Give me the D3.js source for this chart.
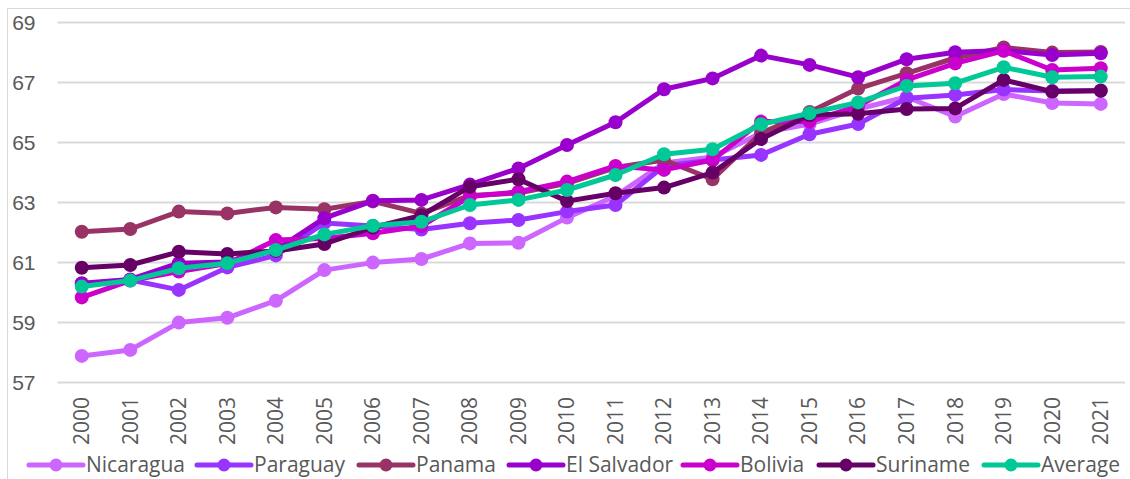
<!DOCTYPE html>
<html>
<head>
<meta charset="utf-8">
<script src="https://cdn.jsdelivr.net/npm/d3@7"></script>
<style>
  body { margin: 0; background: #fff; }
  svg { display: block; font-family: "Open Sans", sans-serif; }
</style>
</head>
<body>
<script>
// Data
var years = ['2000','2001','2002','2003','2004','2005','2006','2007','2008','2009','2010',
             '2011','2012','2013','2014','2015','2016','2017','2018','2019','2020','2021'];
var yTicks = [57, 59, 61, 63, 65, 67, 69];

var nicaragua  = [57.87,58.07,58.98,59.14,59.71,60.73,60.98,61.10,61.62,61.64,62.48,63.20,64.30,64.50,65.30,65.60,66.10,66.50,65.85,66.60,66.30,66.27];
var paraguay   = [60.27,60.40,60.07,60.82,61.22,62.30,62.20,62.08,62.29,62.40,62.68,62.90,64.20,64.40,64.57,65.26,65.60,66.46,66.57,66.75,66.70,66.72];
var panama     = [62.01,62.10,62.68,62.62,62.82,62.76,63.02,62.62,63.22,63.30,63.62,64.15,64.40,63.76,65.30,66.00,66.78,67.29,67.80,68.15,67.98,68.00];
var elSalvador = [60.29,60.42,60.96,61.00,61.40,62.46,63.04,63.07,63.58,64.12,64.90,65.66,66.76,67.12,67.88,67.57,67.16,67.76,67.99,68.05,67.90,67.96];
var bolivia    = [59.82,60.38,60.68,60.95,61.73,61.78,61.96,62.20,63.18,63.34,63.68,64.20,64.07,64.40,65.68,65.68,66.20,67.07,67.62,68.04,67.40,67.46];
var suriname   = [60.81,60.90,61.34,61.27,61.37,61.60,62.15,62.55,63.51,63.76,63.03,63.29,63.48,63.98,65.10,65.90,65.94,66.10,66.12,67.07,66.68,66.71];
var average    = [60.18,60.38,60.79,60.96,61.40,61.92,62.21,62.34,62.90,63.07,63.40,63.90,64.59,64.76,65.59,65.96,66.32,66.87,66.96,67.49,67.16,67.18];

var seriesNames = ['Nicaragua','Paraguay','Panama','El Salvador','Bolivia','Suriname','Average'];
var seriesColors = ['#CC66FF','#9933FF','#993366','#9900CC','#CC00CC','#660066','#00C896'];
var seriesValues = [nicaragua, paraguay, panama, elSalvador, bolivia, suriname, average];

// Layout
var W = 1130, H = 479;
var plotLeft = 57.5, plotRight = 1125, plotTop = 22, plotBottom = 382;
var textColor = '#595959';

var svg = d3.select('body').append('svg').attr('width', W).attr('height', H);

// chart border
svg.append('rect').attr('x', 7.5).attr('y', 8.5).attr('width', 1125).attr('height', 475)
    .attr('fill', 'none').attr('stroke', '#d9d9d9').attr('stroke-width', 1);

var x = d3.scaleBand().domain(years).range([plotLeft, plotRight]);
var y = d3.scaleLinear().domain([57, 69]).range([plotBottom, plotTop]);

// gridlines + y labels
var yAxis = svg.append('g').attr('transform', 'translate(' + plotLeft + ',0)')
    .call(d3.axisLeft(y).tickValues(yTicks).tickSize(-(plotRight - plotLeft)).tickPadding(22).tickFormat(d3.format('d')));
yAxis.select('.domain').remove();
yAxis.selectAll('line').attr('stroke', '#d9d9d9').attr('stroke-width', 2);
yAxis.selectAll('text').attr('fill', textColor).style('font-size', '21px').attr('dy', '0.35em');

// x labels, rotated
svg.append('g').selectAll('text').data(years).enter().append('text')
    .attr('transform', function (d) { return 'translate(' + (x(d) + x.bandwidth() / 2) + ',397) rotate(-90)'; })
    .attr('text-anchor', 'end').attr('dy', '0.35em')
    .attr('fill', textColor).style('font-size', '21px')
    .text(function (d) { return d; });

// series
var line = d3.line()
    .x(function (d, i) { return x(years[i]) + x.bandwidth() / 2; })
    .y(function (d) { return y(d); });

seriesValues.forEach(function (vals, s) {
    var g = svg.append('g');
    g.append('path').datum(vals).attr('d', line)
        .attr('fill', 'none').attr('stroke', seriesColors[s]).attr('stroke-width', 5)
        .attr('stroke-linejoin', 'round');
    g.selectAll('circle').data(vals).enter().append('circle')
        .attr('cx', function (d, i) { return x(years[i]) + x.bandwidth() / 2; })
        .attr('cy', function (d) { return y(d); })
        .attr('r', 7).attr('fill', seriesColors[s]);
});

// legend
var legendX = [29, 197, 359, 509, 683, 819, 984];
var legendY = 465;
var legend = svg.append('g').selectAll('g').data(seriesNames).enter().append('g')
    .attr('transform', function (d, i) { return 'translate(' + legendX[i] + ',' + legendY + ')'; });
legend.append('line').attr('x1', 0).attr('x2', 54).attr('y1', 0).attr('y2', 0)
    .attr('stroke', function (d, i) { return seriesColors[i]; }).attr('stroke-width', 5)
    .attr('stroke-linecap', 'round');
legend.append('circle').attr('cx', 27).attr('cy', 0).attr('r', 6.5)
    .attr('fill', function (d, i) { return seriesColors[i]; });
legend.append('text').attr('x', 57).attr('y', 0).attr('dy', '0.35em')
    .attr('fill', textColor).style('font-size', '21px')
    .text(function (d) { return d; });
</script>
</body>
</html>
